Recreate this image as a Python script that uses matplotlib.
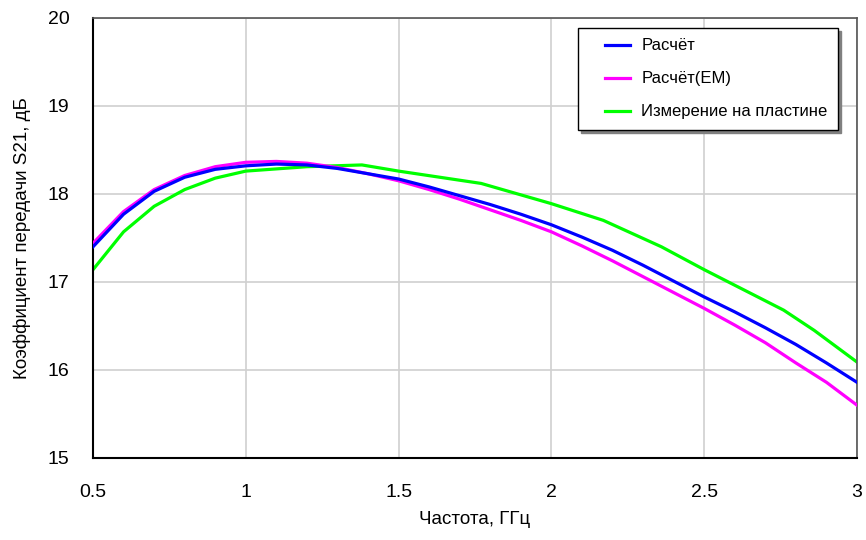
import matplotlib.pyplot as plt
from matplotlib.legend_handler import HandlerLine2D

plt.rcParams['font.family'] = ['Liberation Sans', 'DejaVu Sans']

freq = [0.5, 0.6, 0.7, 0.8, 0.9, 1.0, 1.1, 1.2, 1.3, 1.4, 1.5, 1.6, 1.7,
        1.8, 1.9, 2.0, 2.1, 2.2, 2.3, 2.4, 2.5, 2.6, 2.7, 2.8, 2.9, 3.0]
calc = [17.40, 17.77, 18.03, 18.19, 18.28, 18.32, 18.34, 18.33, 18.29, 18.23,
        18.17, 18.08, 17.98, 17.88, 17.77, 17.65, 17.51, 17.36, 17.19, 17.01,
        16.83, 16.66, 16.48, 16.29, 16.08, 15.86]
calc_em = [17.44, 17.80, 18.05, 18.21, 18.31, 18.36, 18.37, 18.35, 18.30, 18.23,
           18.15, 18.05, 17.94, 17.82, 17.70, 17.57, 17.41, 17.24, 17.06, 16.88,
           16.70, 16.51, 16.31, 16.08, 15.86, 15.60]

freq_meas = [0.5, 0.6, 0.7, 0.8, 0.9, 1.0, 1.2, 1.38, 1.5, 1.77, 2.0, 2.17,
             2.36, 2.5, 2.76, 2.86, 3.0]
meas = [17.14, 17.57, 17.86, 18.05, 18.18, 18.26, 18.31, 18.33, 18.26, 18.12,
        17.89, 17.70, 17.40, 17.14, 16.68, 16.45, 16.09]

fig = plt.figure(figsize=(8.66, 5.4), dpi=100)
ax = fig.add_axes([0.1074, 0.1519, 0.8822, 0.8148])

ax.plot(freq, calc, color='#0000ff', lw=2.3, label='Расчёт', zorder=4)
ax.plot(freq, calc_em, color='#ff00ff', lw=2.3, label='Расчёт(EM)', zorder=3)
ax.plot(freq_meas, meas, color='#00ff00', lw=2.3, label='Измерение на пластине', zorder=2)

ax.set_xlim(0.5, 3)
ax.set_ylim(15, 20)
ax.set_xticks([0.5, 1, 1.5, 2, 2.5, 3])
ax.set_xticklabels(['0.5', '1', '1.5', '2', '2.5', '3'])
ax.set_yticks([15, 16, 17, 18, 19, 20])
ax.tick_params(length=0, labelsize=14)
ax.tick_params(axis='x', pad=19)
ax.tick_params(axis='y', pad=17)
ax.grid(True, color='#d0d0d0', lw=1.2)
ax.set_axisbelow(True)

for s in ['left', 'bottom']:
    ax.spines[s].set_color('black')
    ax.spines[s].set_linewidth(1.5)
for s in ['top', 'right']:
    ax.spines[s].set_color('#555555')
    ax.spines[s].set_linewidth(1.2)

ax.set_xlabel('Частота, ГГц', fontsize=13.5, labelpad=7)
ax.set_ylabel('Коэффициент передачи S21, дБ', fontsize=13.5, labelpad=12)

leg = ax.legend(loc='upper right', bbox_to_anchor=(0.975, 0.977), borderaxespad=0,
                fontsize=12, fancybox=False, shadow={'color': '#808080', 'alpha': 1},
                edgecolor='black', framealpha=1, handlelength=2.5,
                labelspacing=1.08, borderpad=0.62, handletextpad=0.66,
                handler_map={plt.Line2D: HandlerLine2D(xpad=0.96)})
leg.get_frame().set_linewidth(1.0)

fig.savefig('out.png', dpi=100)
